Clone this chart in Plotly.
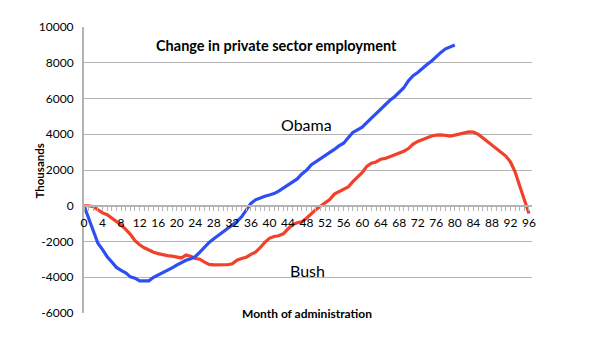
import plotly.graph_objects as go

obama_months = list(range(0, 81))
obama_values = [0, -700, -1500, -2100, -2450, -2850, -3150, -3450, -3620, -3750,
                -3980, -4050, -4200, -4220, -4200, -4000, -3880, -3750, -3600, -3480,
                -3320, -3180, -3050, -2960, -2850, -2600, -2330, -2050, -1850, -1650,
                -1450, -1300, -1080, -880, -620, -220, 130, 330, 450, 530,
                600, 680, 820, 980, 1150, 1350, 1500, 1780, 1980, 2280,
                2450, 2630, 2780, 2980, 3150, 3350, 3500, 3800, 4100, 4250,
                4400, 4650, 4900, 5150, 5450, 5700, 5900, 6100, 6350, 6600,
                7000, 7280, 7450, 7700, 7900, 8100, 8350, 8580, 8780, 8900, 8990]

bush_months = list(range(0, 97))
bush_values = [0, 0, -50, -250, -400, -500, -680, -880, -1080, -1320,
               -1600, -1950, -2180, -2350, -2480, -2600, -2680, -2750, -2790, -2820,
               -2870, -2920, -2760, -2820, -2950, -2990, -3150, -3280, -3310, -3310,
               -3310, -3300, -3250, -3050, -2950, -2880, -2720, -2600, -2350, -2050,
               -1820, -1720, -1680, -1570, -1300, -1050, -950, -900, -700, -450,
               -220, -30, 150, 350, 650, 800, 900, 1050, 1350, 1600,
               1850, 2200, 2380, 2450, 2600, 2650, 2750, 2820, 2920, 3050,
               3200, 3450, 3600, 3700, 3800, 3900, 3950, 3970, 3940, 3900,
               3950, 4010, 4080, 4130, 4120, 4000, 3800, 3600, 3400, 3200,
               3000, 2780, 2450, 1900, 1100, 350, -430]

x_ticks = list(range(0, 97, 4))
y_ticks = list(range(-6000, 10001, 2000))

FONT = "Lato"
GRID = "#b3b3b3"

fig = go.Figure()
fig.add_trace(go.Scatter(x=bush_months, y=bush_values, mode="lines",
                         line=dict(color="#f2412a", width=3.2), name="Bush"))
fig.add_trace(go.Scatter(x=obama_months, y=obama_values, mode="lines",
                         line=dict(color="#2d4ef2", width=3.2), name="Obama"))

fig.update_layout(
    width=584, height=347,
    margin=dict(l=76, r=60, t=19, b=42),
    paper_bgcolor="white", plot_bgcolor="white",
    showlegend=False,
    font=dict(family=FONT, color="black", size=11),
    xaxis=dict(range=[0, 96.65], tickvals=x_ticks, ticktext=[str(v) for v in x_ticks],
               showgrid=False, zeroline=False, showline=True, linecolor=GRID, linewidth=1.5,
               anchor="free", position=0.375,
               ticks="outside", ticklen=4, tickcolor=GRID, tickwidth=1,
               minor=dict(dtick=1, ticks="outside", ticklen=4, tickcolor=GRID, tickwidth=1),
               tickfont=dict(family=FONT, size=12), ticklabelstandoff=2),
    yaxis=dict(range=[-6000, 10000], tickvals=y_ticks, ticktext=[str(v) for v in y_ticks],
               showgrid=True, gridcolor=GRID, gridwidth=1.2, zeroline=False,
               showline=True, linecolor=GRID, linewidth=2,
               ticks="", tickfont=dict(family=FONT, size=12), ticklabelstandoff=6),
)

fig.add_annotation(text="<b>Change in private sector employment</b>", xref="paper", yref="paper",
                   x=0.4286, y=0.972, showarrow=False, font=dict(family=FONT, size=14.5))
fig.add_annotation(text="Obama", x=48.1, y=4572, showarrow=False, font=dict(family=FONT, size=16))
fig.add_annotation(text="Bush", x=48.3, y=-3600, showarrow=False, font=dict(family=FONT, size=16))
fig.add_annotation(text="<b>Thousands</b>", xref="paper", yref="paper", x=-0.1205, y=0.4965,
                   textangle=-90, showarrow=False, font=dict(family=FONT, size=11.5))
fig.add_annotation(text="<b>Month of administration</b>", xref="paper", yref="paper", x=0.498, y=-0.035,
                   showarrow=False, font=dict(family=FONT, size=12))

fig.write_html("out.html")
